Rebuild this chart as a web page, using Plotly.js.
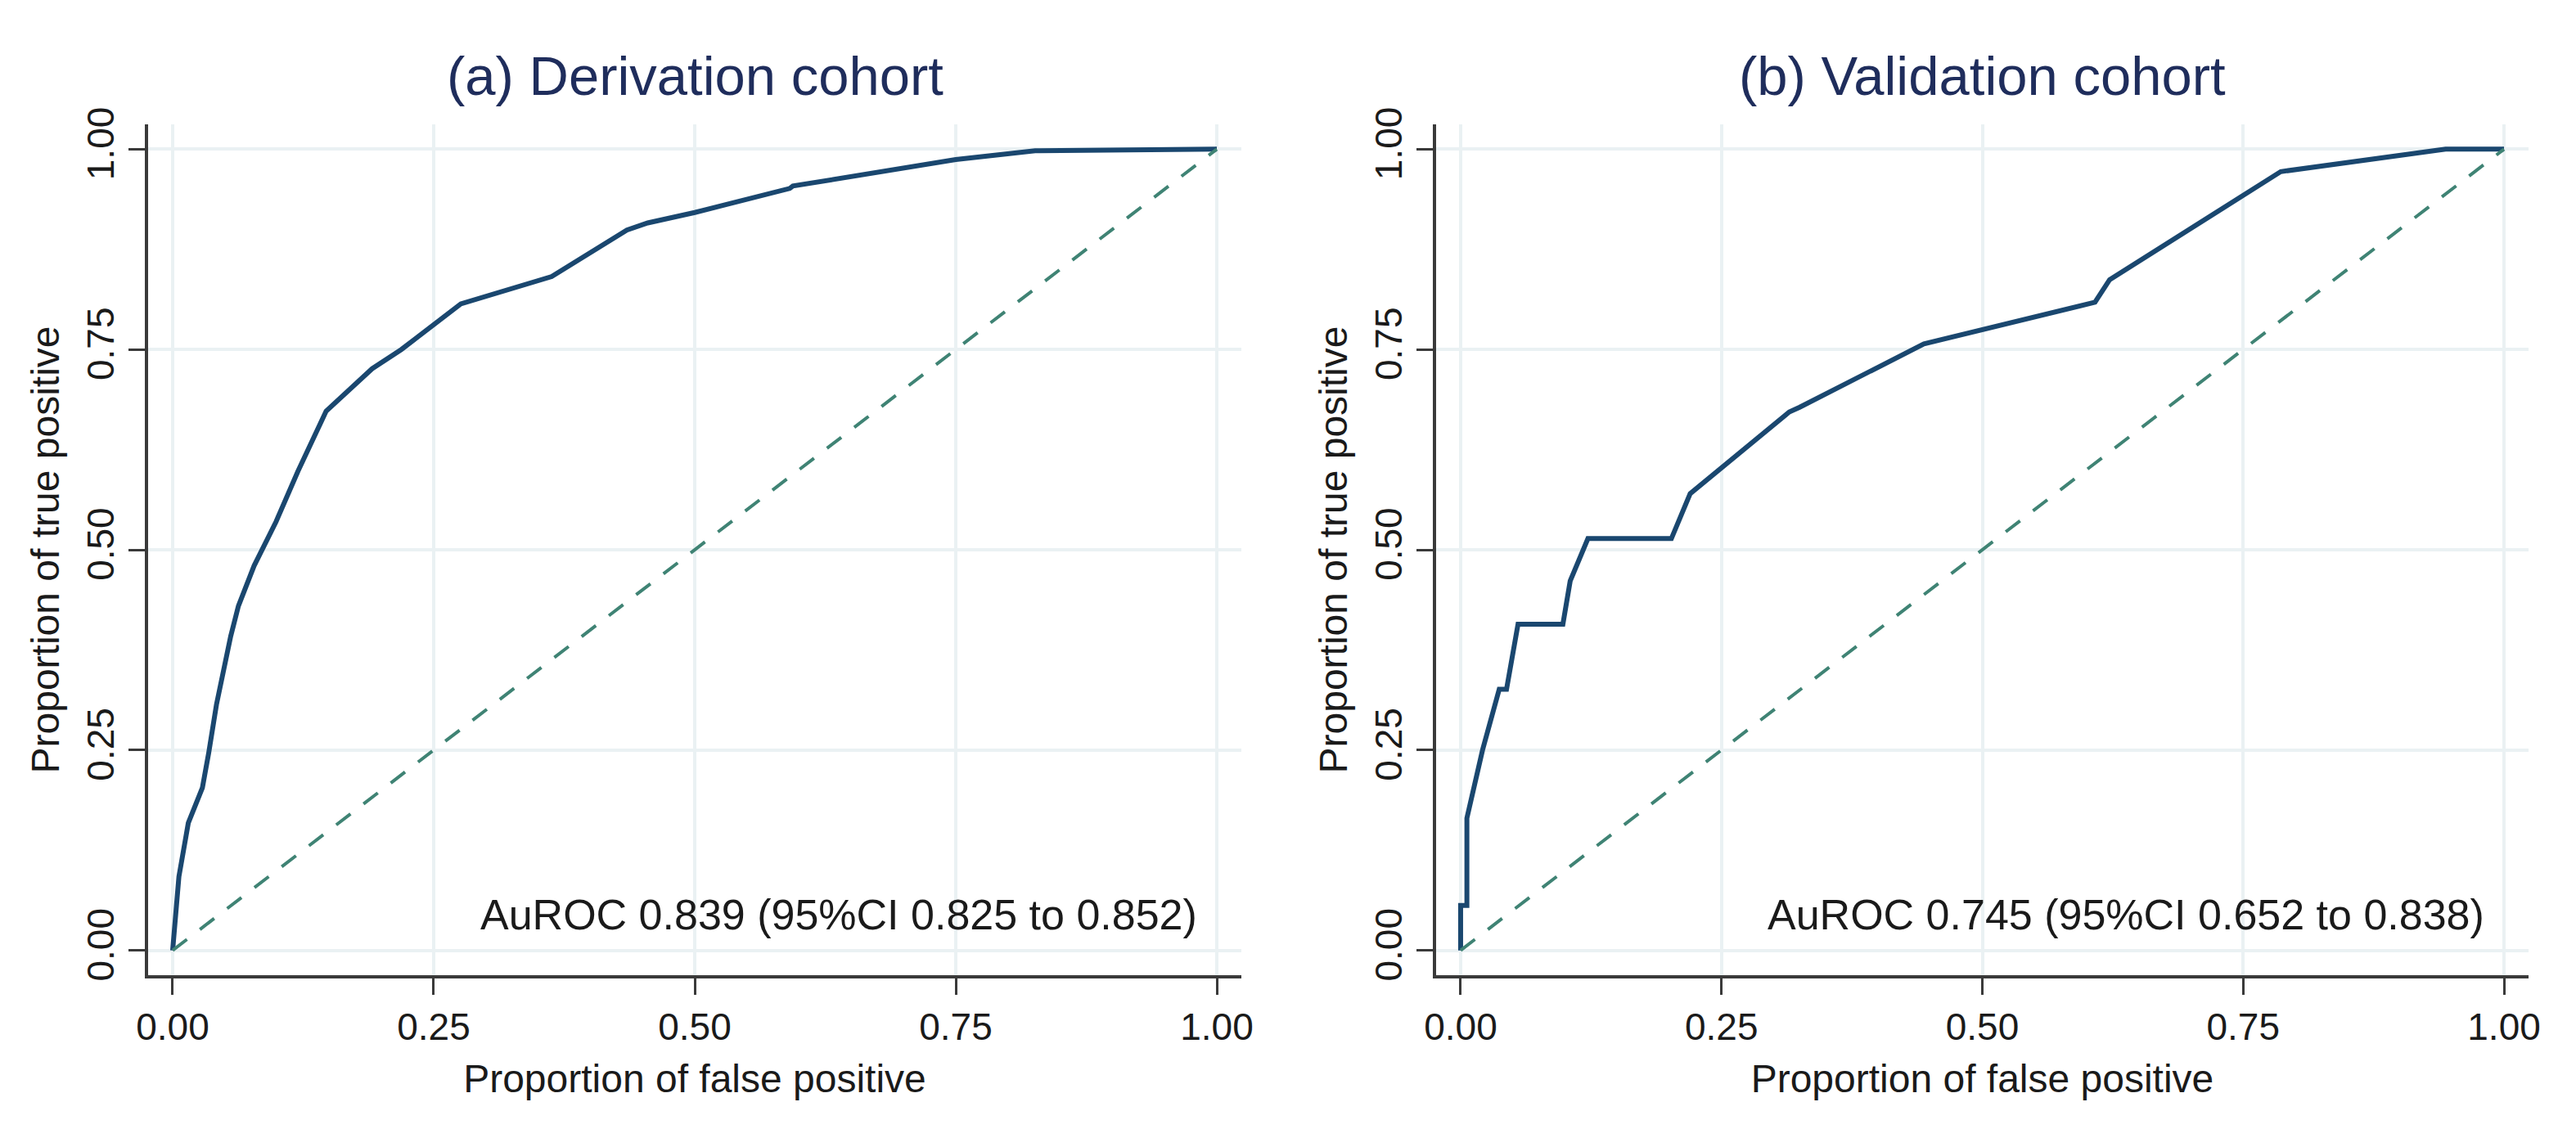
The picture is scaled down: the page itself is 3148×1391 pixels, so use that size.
<!DOCTYPE html>
<html>
<head>
<meta charset="utf-8">
<script src="https://cdn.plot.ly/plotly-3.0.1.min.js"></script>
<style>
  html, body { margin: 0; padding: 0; background: #ffffff; }
  #chart { width: 3148px; height: 1391px; }
</style>
</head>
<body>
<div id="chart"></div>
<script>
// ---- Data ----
const panelTitles = ['(a) Derivation cohort', '(b) Validation cohort'];
const aurocLabels = ['AuROC 0.839 (95%CI 0.825 to 0.852)', 'AuROC 0.745 (95%CI 0.652 to 0.838)'];

// (a) Derivation cohort ROC curve
const fprDerivation = [0, 0.006, 0.015, 0.0285, 0.0346, 0.042, 0.0556, 0.063, 0.078, 0.099, 0.12, 0.147, 0.191, 0.219, 0.276, 0.363, 0.435, 0.455, 0.5, 0.591, 0.594, 0.70, 0.75, 0.826, 0.95, 1.0];
const tprDerivation = [0, 0.092, 0.159, 0.203, 0.247, 0.307, 0.392, 0.430, 0.480, 0.535, 0.598, 0.673, 0.726, 0.75, 0.807, 0.841, 0.899, 0.908, 0.921, 0.951, 0.954, 0.976, 0.987, 0.998, 1.0, 1.0];

// (b) Validation cohort ROC curve
const fprValidation = [0, 0, 0.006, 0.006, 0.021, 0.037, 0.044, 0.055, 0.098, 0.105, 0.122, 0.202, 0.22, 0.315, 0.325, 0.444, 0.608, 0.622, 0.786, 0.944, 1.0];
const tprValidation = [0, 0.056, 0.056, 0.165, 0.25, 0.326, 0.326, 0.407, 0.407, 0.461, 0.514, 0.514, 0.57, 0.672, 0.678, 0.757, 0.809, 0.837, 0.972, 1.0, 1.0];

// Reference (chance) line
const refX = [0, 1];
const refY = [0, 1];

// Axes
const tickVals = [0, 0.25, 0.5, 0.75, 1];
const tickText = ['0.00', '0.25', '0.50', '0.75', '1.00'];
const xTitle = 'Proportion of false positive';
const yTitle = 'Proportion of true positive';

// ---- Styling ----
const FONT = 'Liberation Sans, Arial, Helvetica, sans-serif';
const curveColor = '#1a476f';
const refColor = '#3f8374';
const axisColor = '#3a3a3a';
const gridColor = '#eaf1f3';
const titleColor = '#1f2d5c';

const W = 3148, H = 1391;
const yDom = [(H - 1192) / H, (H - 152) / H];
const xDomA = [181 / W, 1517 / W];
const xDomB = [1755 / W, 3090 / W];

function xAxis(domain, anchor) {
  return {
    domain: domain, anchor: anchor,
    range: [-0.0235, 1.0235],
    showline: true, linecolor: axisColor, linewidth: 4,
    ticks: 'outside', ticklen: 20, tickwidth: 3, tickcolor: axisColor,
    showgrid: true, gridcolor: gridColor, gridwidth: 4,
    zeroline: false,
    tickmode: 'array', tickvals: tickVals, ticktext: tickText,
    tickfont: { family: FONT, size: 46, color: '#1a1a1a' },
    title: { text: xTitle, font: { family: FONT, size: 48, color: '#1a1a1a' }, standoff: 22 },
    fixedrange: true
  };
}
function yAxis(anchor) {
  return {
    domain: yDom, anchor: anchor,
    range: [-0.031, 1.031],
    showline: true, linecolor: axisColor, linewidth: 4,
    ticks: 'outside', ticklen: 20, tickwidth: 3, tickcolor: axisColor,
    showgrid: true, gridcolor: gridColor, gridwidth: 4,
    zeroline: false,
    tickmode: 'array', tickvals: tickVals, ticktext: tickText,
    tickangle: -90,
    tickfont: { family: FONT, size: 46, color: '#1a1a1a' },
    title: { text: yTitle, font: { family: FONT, size: 48, color: '#1a1a1a' }, standoff: 10 },
    fixedrange: true
  };
}

const traces = [
  { x: fprDerivation, y: tprDerivation, xaxis: 'x', yaxis: 'y', mode: 'lines',
    line: { color: curveColor, width: 6 }, hoverinfo: 'x+y', showlegend: false },
  { x: refX, y: refY, xaxis: 'x', yaxis: 'y', mode: 'lines',
    line: { color: refColor, width: 4, dash: '22px,20px' }, hoverinfo: 'skip', showlegend: false },
  { x: fprValidation, y: tprValidation, xaxis: 'x2', yaxis: 'y2', mode: 'lines',
    line: { color: curveColor, width: 6 }, hoverinfo: 'x+y', showlegend: false },
  { x: refX, y: refY, xaxis: 'x2', yaxis: 'y2', mode: 'lines',
    line: { color: refColor, width: 4, dash: '22px,20px' }, hoverinfo: 'skip', showlegend: false }
];

const layout = {
  width: W, height: H,
  margin: { l: 0, r: 0, t: 0, b: 0, pad: 0 },
  paper_bgcolor: '#ffffff', plot_bgcolor: '#ffffff',
  font: { family: FONT, color: '#1a1a1a' },
  showlegend: false,
  xaxis: xAxis(xDomA, 'y'),
  yaxis: yAxis('x'),
  xaxis2: xAxis(xDomB, 'y2'),
  yaxis2: yAxis('x2'),
  annotations: [
    { text: panelTitles[0], xref: 'paper', yref: 'paper',
      x: (xDomA[0] + xDomA[1]) / 2, y: (H - 92) / H, xanchor: 'center', yanchor: 'middle',
      showarrow: false, font: { family: FONT, size: 67, color: titleColor } },
    { text: panelTitles[1], xref: 'paper', yref: 'paper',
      x: (xDomB[0] + xDomB[1]) / 2, y: (H - 92) / H, xanchor: 'center', yanchor: 'middle',
      showarrow: false, font: { family: FONT, size: 67, color: titleColor } },
    { text: aurocLabels[0], xref: 'x', yref: 'y', x: 0.983, y: 0.045,
      xanchor: 'right', yanchor: 'middle', showarrow: false,
      font: { family: FONT, size: 52, color: '#1a1a1a' } },
    { text: aurocLabels[1], xref: 'x2', yref: 'y2', x: 0.983, y: 0.045,
      xanchor: 'right', yanchor: 'middle', showarrow: false,
      font: { family: FONT, size: 52, color: '#1a1a1a' } }
  ]
};

Plotly.newPlot('chart', traces, layout, { staticPlot: true, displayModeBar: false });
</script>
</body>
</html>
